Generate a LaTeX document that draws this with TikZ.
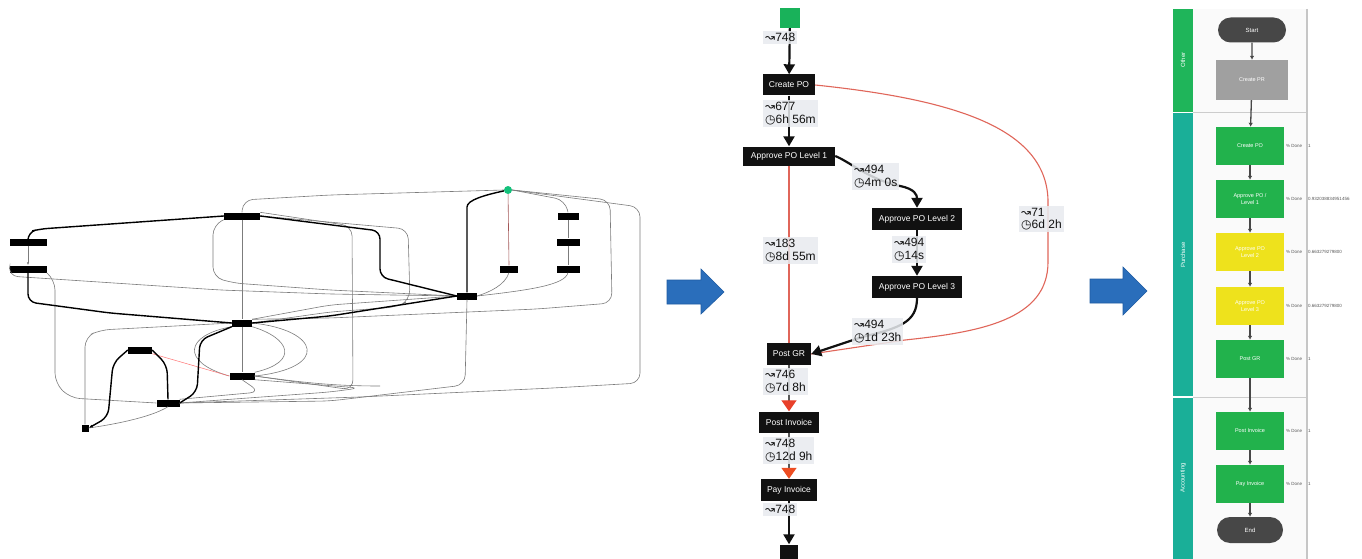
\documentclass[tikz,border=0pt]{standalone}
\usepackage{fontspec}
\setmainfont{Liberation Sans}
\newfontfamily\djv{DejaVu Sans}
\usetikzlibrary{arrows.meta,shapes.misc}
\definecolor{pmgreen}{HTML}{19B25A}
\definecolor{lblbg}{HTML}{E8EBEF}
\definecolor{redln}{HTML}{E0665A}
\definecolor{arrred}{HTML}{E8402A}
\definecolor{blk}{HTML}{111111}
\definecolor{bluearr}{HTML}{2A6EBB}
\definecolor{bluedk}{HTML}{1F5CA3}
\definecolor{lanegreen}{HTML}{1FB55A}
\definecolor{laneteal}{HTML}{1AAF98}
\definecolor{boxgreen}{HTML}{22B24C}
\definecolor{boxyellow}{HTML}{EEE21C}
\definecolor{boxgrey}{HTML}{A0A0A0}
\definecolor{pilldark}{HTML}{474747}
\definecolor{thingrey}{HTML}{7C7C7C}
\newcommand{\fr}{{\djv ↝}}
\newcommand{\clk}{{\djv ◷}}
\begin{document}
\begin{tikzpicture}[x=1pt,y=-1pt,
  lbox/.style={fill=black, inner sep=0pt, minimum height=7, minimum width=#1},
  lthk/.style={draw=black, line width=1.4pt, rounded corners=8},
  lthn/.style={draw=thingrey, line width=0.6pt, rounded corners=10},
  pm/.style={fill=blk, text=white, font=\fontsize{8.5}{9}\selectfont, inner sep=0pt, minimum height=21},
  lbl/.style={fill=lblbg, fill opacity=0.85, text opacity=1, text=blk, align=left,
    font=\fontsize{12}{12.5}\selectfont, inner sep=2pt, anchor=north west},
  thk/.style={draw=blk, line width=2.2pt},
  rb/.style={minimum width=68, minimum height=38, text=white, inner sep=1pt,
    font=\fontsize{5.5}{6.5}\selectfont, align=center},
  pill/.style={rounded rectangle, fill=pilldark, text=white, minimum width=70, minimum height=25,
    font=\fontsize{6}{7}\selectfont, inner sep=1pt},
  rarr/.style={draw=pilldark, line width=1.3pt, -{Latex[length=4pt,width=4.5pt]}},
  done/.style={anchor=west, text=gray!70!black, font=\fontsize{4.5}{5}\selectfont, inner sep=0pt},
  lanelbl/.style={rotate=90, text=white, font=\fontsize{6}{6.5}\selectfont, inner sep=0pt}
]
\useasboundingbox (0,0) rectangle (1362,559);
\fill[white] (0,0) rectangle (1362,559);

% ================= LEFT PANEL =================
\node[circle, fill=pmgreen!80!cyan, inner sep=0pt, minimum size=8] (S) at (508,190) {};
\node[lbox=36] (tA) at (242,216) {};
\node[lbox=37] (tB) at (28,242) {};
\node[lbox=37] (tC) at (28,269) {};
\node[lbox=20] (tD) at (242,323) {};
\node[lbox=24] (tE) at (140,350) {};
\node[lbox=25] (tF) at (242,376) {};
\node[lbox=23] (tG) at (168,403) {};
\node[lbox=20] (tH) at (467,296) {};
\node[lbox=18] (tI) at (509,269) {};
\node[lbox=21] (tJ) at (568,216) {};
\node[lbox=23] (tK) at (568,242) {};
\node[lbox=23] (tL) at (568,269) {};
\node[fill=black, inner sep=0pt, minimum size=7] (tEnd) at (85,428) {};

% thin connectors
\draw[lthn] (tA.south) -- (tD.north);
\draw[lthn] (tD.south) -- (tF.north);
\draw[lthn, -{Latex[length=3pt]}] (tB.south) -- (tC.north);
\draw[draw=thingrey!70!red, line width=0.6pt] (S) -- (tI.north);
\draw[lthn] (S.east) -- (565,200) -- (tJ.north);
\draw[lthn] (tJ.south) -- (tK.north);
\draw[lthn] (tK.south) -- (tL.north);
\draw[lthn] (tL.south) .. controls (565,285) and (530,290) .. (tH.east);
\draw[lthn] (tI.south) .. controls (505,285) and (490,292) .. (tH.east);
\draw[lthn] (S.west) -- (330,195) -- (243,200) -- (tA.north);
\draw[lthn] (S.east) -- (610,200) -- (612,303) -- (537,309) -- (330,318) -- (tD.north east);
\draw[lthn] (S.east) -- (640,207) -- (640,383) -- (553,388) -- (360,397) -- (tG.east);
\draw[lthn] (tH.south) -- (465,385) -- (330,401) -- (tG.east);
\draw[lthn] (tA.south west) -- (213,225) -- (213,277) -- (233,283) -- (330,290) -- (tH.west);
\draw[lthn] (tA.east) -- (408,229) -- (410,300) -- (397,307) -- (330,312) -- (tD.east);
\draw[lthn] (tA.north east) -- (352,226) -- (353,390) -- (tF.east);
\draw[lthn] (tC.west) -- (8,276) -- (220,290) -- (330,294) -- (tH.west);
\draw[lthn] (tC.south east) -- (55,280) -- (55,383) -- (70,398) -- (tG.west);
\draw[lthn] (tD.east) .. controls (320,330) and (330,368) .. (tF.east);
\draw[lthn] (tD.south east) .. controls (290,338) and (300,362) .. (tF.north east);
\draw[lthn] (tD.west) -- (100,330) -- (85,337) -- (tEnd.north);
\draw[lthn] (tD.south west) .. controls (185,335) and (180,362) .. (tF.west);
\draw[draw=red!55, line width=0.5pt] (tE.south east) -- (tF.west);
\draw[lthn] (tG.east) -- (330,392) -- (360,388) -- (tF.south east);
\draw[lthn] (tG.north east) -- (260,392) -- (tF.south);
\draw[lthn] (tG.south) .. controls (150,418) and (110,425) .. (tEnd.east);
\draw[lthn] (tF.east) .. controls (300,382) and (330,386) .. (380,386);
\draw[lthn] (tH.west) -- (330,305) -- (tD.north east);
% thick connectors
\draw[lthk] (tA.west) -- (40,229) -- (28,232) -- (tB.north);
\draw[lthk] (tA.east) -- (380,231) -- (380,277) -- (tH.west);
\draw[lthk] (tC.south) -- (28,302) -- (110,313) -- (tD.west);
\draw[lthk] (tH.west) -- (330,316) -- (tD.east);
\draw[lthk] (S) .. controls (485,195) and (467,200) .. (467,215) -- (tH.north);
\draw[lthk] (tD.south west) -- (200,340) -- (197,392) -- (tG.east);
\draw[lthk] (tE.east) -- (167,365) -- (tG.north);
\draw[lthk, -{Latex[length=4pt]}] (tE.west) -- (113,363) -- (108,417) -- (tEnd.east);

% ================= BLUE ARROWS =================
\fill[bluearr, draw=bluedk, line width=0.6pt] (667,280) -- (701,280) -- (701,269) -- (724,292) -- (701,314) -- (701,304) -- (667,304) -- cycle;
\fill[bluearr, draw=bluedk, line width=0.6pt] (1090,279) -- (1123,279) -- (1123,267) -- (1147,291) -- (1123,315) -- (1123,303) -- (1090,303) -- cycle;

% ================= MIDDLE PANEL =================
\node[fill=pmgreen, minimum width=20, minimum height=20, inner sep=0pt] (st) at (790,18) {};
\node[pm, minimum width=52] (cpo) at (789,85) {Create PO};
\node[pm, minimum width=92, minimum height=19] (apo1) at (789,156) {Approve PO Level 1};
\node[pm, minimum width=90, minimum height=22] (apo2) at (917,219) {Approve PO Level 2};
\node[pm, minimum width=90, minimum height=22] (apo3) at (917,287) {Approve PO Level 3};
\node[pm, minimum width=44, minimum height=22] (pgr) at (789,354) {Post GR};
\node[pm, minimum width=60, minimum height=21] (pinv) at (789,422) {Post Invoice};
\node[pm, minimum width=56, minimum height=22] (pay) at (789,490) {Pay Invoice};
\node[fill=blk, minimum width=18, minimum height=17, inner sep=0pt] (en) at (789,553) {};

\draw[draw=redln, line width=1.4pt] (apo1.south) -- (pgr.north);
\draw[draw=redln, line width=1.1pt] (cpo.east) .. controls (960,100) and (1046,130) .. (1048,200) -- (1048,262) .. controls (1048,320) and (980,332) .. (905,340) -- (pgr.east);
\draw[thk, -{Triangle[length=10pt,width=11pt]}] (st) -- (cpo);
\draw[thk, -{Triangle[length=10pt,width=11pt]}] (cpo) -- (apo1);
\draw[thk, -{Triangle[length=10pt,width=11pt]}] (apo1.east) .. controls (850,162) and (870,180) .. (900,186) .. controls (915,189) and (917,195) .. (apo2.north);
\draw[thk, -{Triangle[length=10pt,width=11pt]}] (apo2) -- (apo3);
\draw[thk, -{Triangle[length=10pt,width=11pt]}] (apo3.south) .. controls (917,322) and (900,328) .. (862,337) -- (pgr.east);
\draw[draw=gray!70!black, line width=1.3pt, -{Triangle[length=11pt,width=15pt,color=arrred]}] (pgr) -- (pinv);
\draw[draw=gray!70!black, line width=1.3pt, -{Triangle[length=11pt,width=15pt,color=arrred!80!orange]}] (pinv) -- (pay);
\draw[thk, -{Triangle[length=10pt,width=11pt]}] (pay) -- (en);

\node[lbl] (l1) at (763,31) {\fr748};
\node[lbl] (l2) at (763,100) {\fr677\\\clk6h 56m};
\node[lbl] (l3) at (852,163) {\fr494\\\clk4m 0s};
\node[lbl] (l4) at (763,237) {\fr183\\\clk8d 55m};
\node[lbl] (l5) at (892,236) {\fr494\\\clk14s};
\node[lbl] (l6) at (1019,206) {\fr71\\\clk6d 2h};
\node[lbl] (l7) at (852,318) {\fr494\\\clk1d 23h};
\node[lbl] (l8) at (763,368) {\fr746\\\clk7d 8h};
\node[lbl] (l9) at (763,437) {\fr748\\\clk12d 9h};
\node[lbl] (l10) at (763,503) {\fr748};

% ================= RIGHT PANEL =================
\fill[gray!4] (1193,9) rectangle (1307,559);
\fill[lanegreen] (1173,9) rectangle (1193,112);
\fill[laneteal] (1173,113.5) rectangle (1193,396);
\fill[laneteal] (1173,397.5) rectangle (1193,559);
\draw[gray!40, line width=1pt] (1193,113) -- (1307,113);
\draw[gray!40, line width=1pt] (1193,397) -- (1307,397);
\draw[gray!45, line width=1.6pt] (1307,9) -- (1307,559);
\node[lanelbl] (ln1) at (1183,60) {Other};
\node[lanelbl] (ln2) at (1183,255) {Purchase};
\node[lanelbl] (ln3) at (1183,478) {Accounting};

\node[pill] (rS) at (1252,30) {Start};
\node[rb, fill=boxgrey, minimum width=72, minimum height=40] (rCPR) at (1252,80) {Create PR};
\node[rb, fill=boxgreen] (rCPO) at (1250,146) {Create PO};
\node[rb, fill=boxgreen] (rA1) at (1250,199) {Approve PO /\\Level 1};
\node[rb, fill=boxyellow] (rA2) at (1250,252) {Approve PO\\Level 2};
\node[rb, fill=boxyellow] (rA3) at (1250,306) {Approve PO\\Level 3};
\node[rb, fill=boxgreen] (rGR) at (1250,359) {Post GR};
\node[rb, fill=boxgreen] (rPI) at (1250,431) {Post Invoice};
\node[rb, fill=boxgreen] (rPay) at (1250,484) {Pay Invoice};
\node[pill, minimum width=68, minimum height=26] (rE) at (1250,530) {End};

\draw[rarr] (rS) -- (rCPR);
\draw[rarr] (rCPR) -- (rCPO);
\draw[rarr] (rCPO) -- (rA1);
\draw[rarr] (rA1) -- (rA2);
\draw[rarr] (rA2) -- (rA3);
\draw[rarr] (rA3) -- (rGR);
\draw[rarr] (rGR) -- (rPI);
\draw[rarr] (rPI) -- (rPay);
\draw[rarr] (rPay) -- (rE);

\node[done] (d1) at (1286,146) {\% Done\hspace{6pt}1};
\node[done] (d2) at (1286,199) {\% Done\hspace{6pt}0.932038834951456};
\node[done] (d3) at (1286,252) {\% Done\hspace{6pt}0.663279279800};
\node[done] (d4) at (1286,306) {\% Done\hspace{6pt}0.663279279800};
\node[done] (d5) at (1286,359) {\% Done\hspace{6pt}1};
\node[done] (d6) at (1286,431) {\% Done\hspace{6pt}1};
\node[done] (d7) at (1286,484) {\% Done\hspace{6pt}1};
\end{tikzpicture}
\end{document}
